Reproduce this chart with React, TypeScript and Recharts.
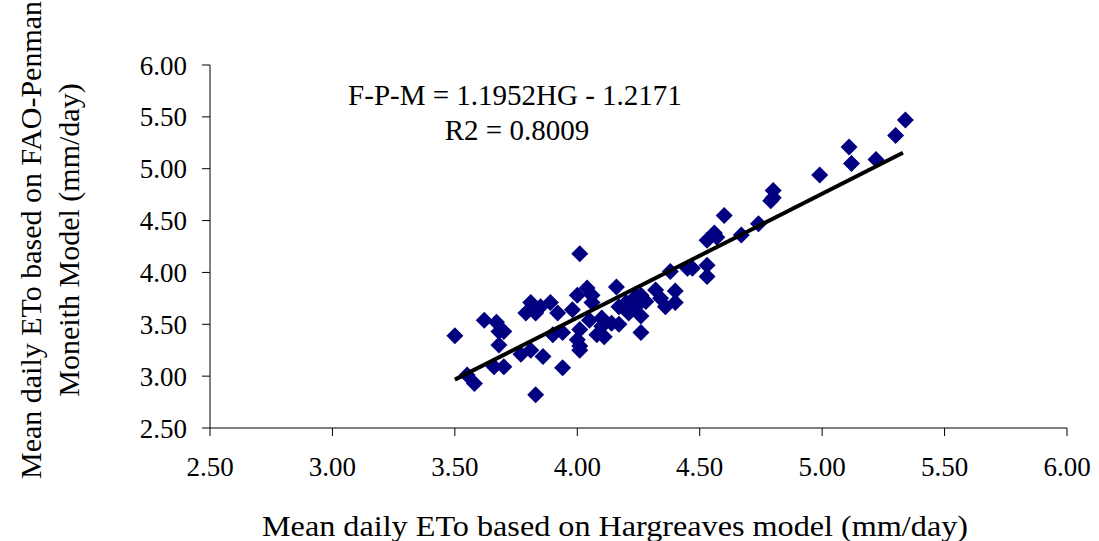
import React from "react";
import {
  ScatterChart,
  Scatter,
  XAxis,
  YAxis,
} from "recharts";

// Hargreaves (x) vs FAO-Penman-Monteith (y), mm/day
const hgValues = [
  3.5, 3.55, 3.58, 3.62, 3.66, 3.67, 3.68, 3.68, 3.7, 3.7, 3.77, 3.79, 3.81, 3.81, 3.83, 3.83,
  3.85, 3.86, 3.89, 3.9, 3.92, 3.94, 3.94, 3.98, 4.0, 4.0, 4.01, 4.01, 4.01, 4.01, 4.04, 4.05,
  4.06, 4.06, 4.08, 4.1, 4.1, 4.11, 4.14, 4.16, 4.17, 4.17, 4.2, 4.21, 4.22, 4.24, 4.24, 4.26,
  4.26, 4.26, 4.28, 4.32, 4.34, 4.36, 4.38, 4.4, 4.4, 4.45, 4.47, 4.53, 4.53, 4.53, 4.56, 4.57,
  4.6, 4.67, 4.74, 4.79, 4.8, 4.8, 4.99, 5.11, 5.12, 5.22, 5.3, 5.34,
];
const fpmValues = [
  3.39, 3.01, 2.93, 3.54, 3.09, 3.52, 3.43, 3.3, 3.43, 3.09, 3.21, 3.61, 3.71, 3.25, 3.61, 2.82,
  3.67, 3.19, 3.71, 3.4, 3.61, 3.42, 3.08, 3.64, 3.78, 3.35, 4.18, 3.45, 3.29, 3.25, 3.85, 3.54,
  3.78, 3.71, 3.4, 3.56, 3.48, 3.38, 3.51, 3.86, 3.67, 3.5, 3.71, 3.61, 3.66, 3.77, 3.67, 3.78,
  3.58, 3.42, 3.72, 3.83, 3.75, 3.67, 4.01, 3.82, 3.71, 4.04, 4.04, 4.07, 3.96, 4.31, 4.38, 4.34,
  4.55, 4.36, 4.47, 4.69, 4.72, 4.79, 4.94, 5.21, 5.05, 5.09, 5.32, 5.47,
];
const axisTicks = [2.5, 3.0, 3.5, 4.0, 4.5, 5.0, 5.5, 6.0];
const slope = 1.1952;
const intercept = -1.2171;
const trendX = [3.5, 5.33];

const points = hgValues.map((x, i) => ({ x, y: fpmValues[i] }));
const trend = trendX.map((x) => ({ x, y: slope * x + intercept }));

const FONT = "'Liberation Serif', 'Times New Roman', serif";

const Diamond = (props: any) => {
  const { cx, cy } = props;
  const r = 8.5;
  return (
    <polygon
      points={`${cx},${cy - r} ${cx + r},${cy} ${cx},${cy + r} ${cx - r},${cy}`}
      fill="#000080"
    />
  );
};

const App = () => {
  return (
    <div style={{ position: "absolute", left: 0, top: 0, background: "#fff" }}>
      <ScatterChart
        width={1099}
        height={541}
        margin={{ top: 65, right: 32, bottom: 53, left: 100 }}
        style={{ fontFamily: FONT }}
      >
        <XAxis
          type="number"
          dataKey="x"
          domain={[2.5, 6]}
          ticks={axisTicks}
          tickFormatter={(v: number) => v.toFixed(2)}
          height={60}
          tickSize={8}
          tickMargin={21}
          stroke="#000"
          tick={{ fill: "#000", fontSize: 27, fontFamily: FONT }}
          allowDataOverflow
        />
        <YAxis
          type="number"
          dataKey="y"
          domain={[2.5, 6]}
          ticks={axisTicks}
          tickFormatter={(v: number) => v.toFixed(2)}
          width={110}
          tickSize={8}
          tickMargin={15}
          stroke="#000"
          tick={{ fill: "#000", fontSize: 27, fontFamily: FONT }}
          allowDataOverflow
        />
        <Scatter
          data={points}
          shape={<Diamond />}
          isAnimationActive={false}
        />
        <Scatter
          data={trend}
          line={{ stroke: "#000", strokeWidth: 4 }}
          shape={() => null}
          isAnimationActive={false}
        />
        <text x={515} y={95} textAnchor="middle" dominantBaseline="central" fontSize={29} fontFamily={FONT} fill="#000">
          F-P-M = 1.1952HG - 1.2171
        </text>
        <text x={517} y={130} textAnchor="middle" dominantBaseline="central" fontSize={29} fontFamily={FONT} fill="#000">
          R2 = 0.8009
        </text>
        <text
          x={615}
          y={525}
          textAnchor="middle"
          dominantBaseline="central"
          fontSize={30}
          fontFamily={FONT}
          fill="#000"
          textLength={706}
          lengthAdjust="spacingAndGlyphs"
        >
          Mean daily ETo based on Hargreaves model (mm/day)
        </text>
        <text
          transform="translate(30, 240) rotate(-90)"
          textAnchor="middle"
          dominantBaseline="central"
          fontSize={30}
          fontFamily={FONT}
          fill="#000"
        >
          Mean daily ETo based on FAO-Penman
        </text>
        <text
          transform="translate(68, 240) rotate(-90)"
          textAnchor="middle"
          dominantBaseline="central"
          fontSize={30}
          fontFamily={FONT}
          fill="#000"
        >
          Moneith Model (mm/day)
        </text>
      </ScatterChart>
    </div>
  );
};

export default App;
